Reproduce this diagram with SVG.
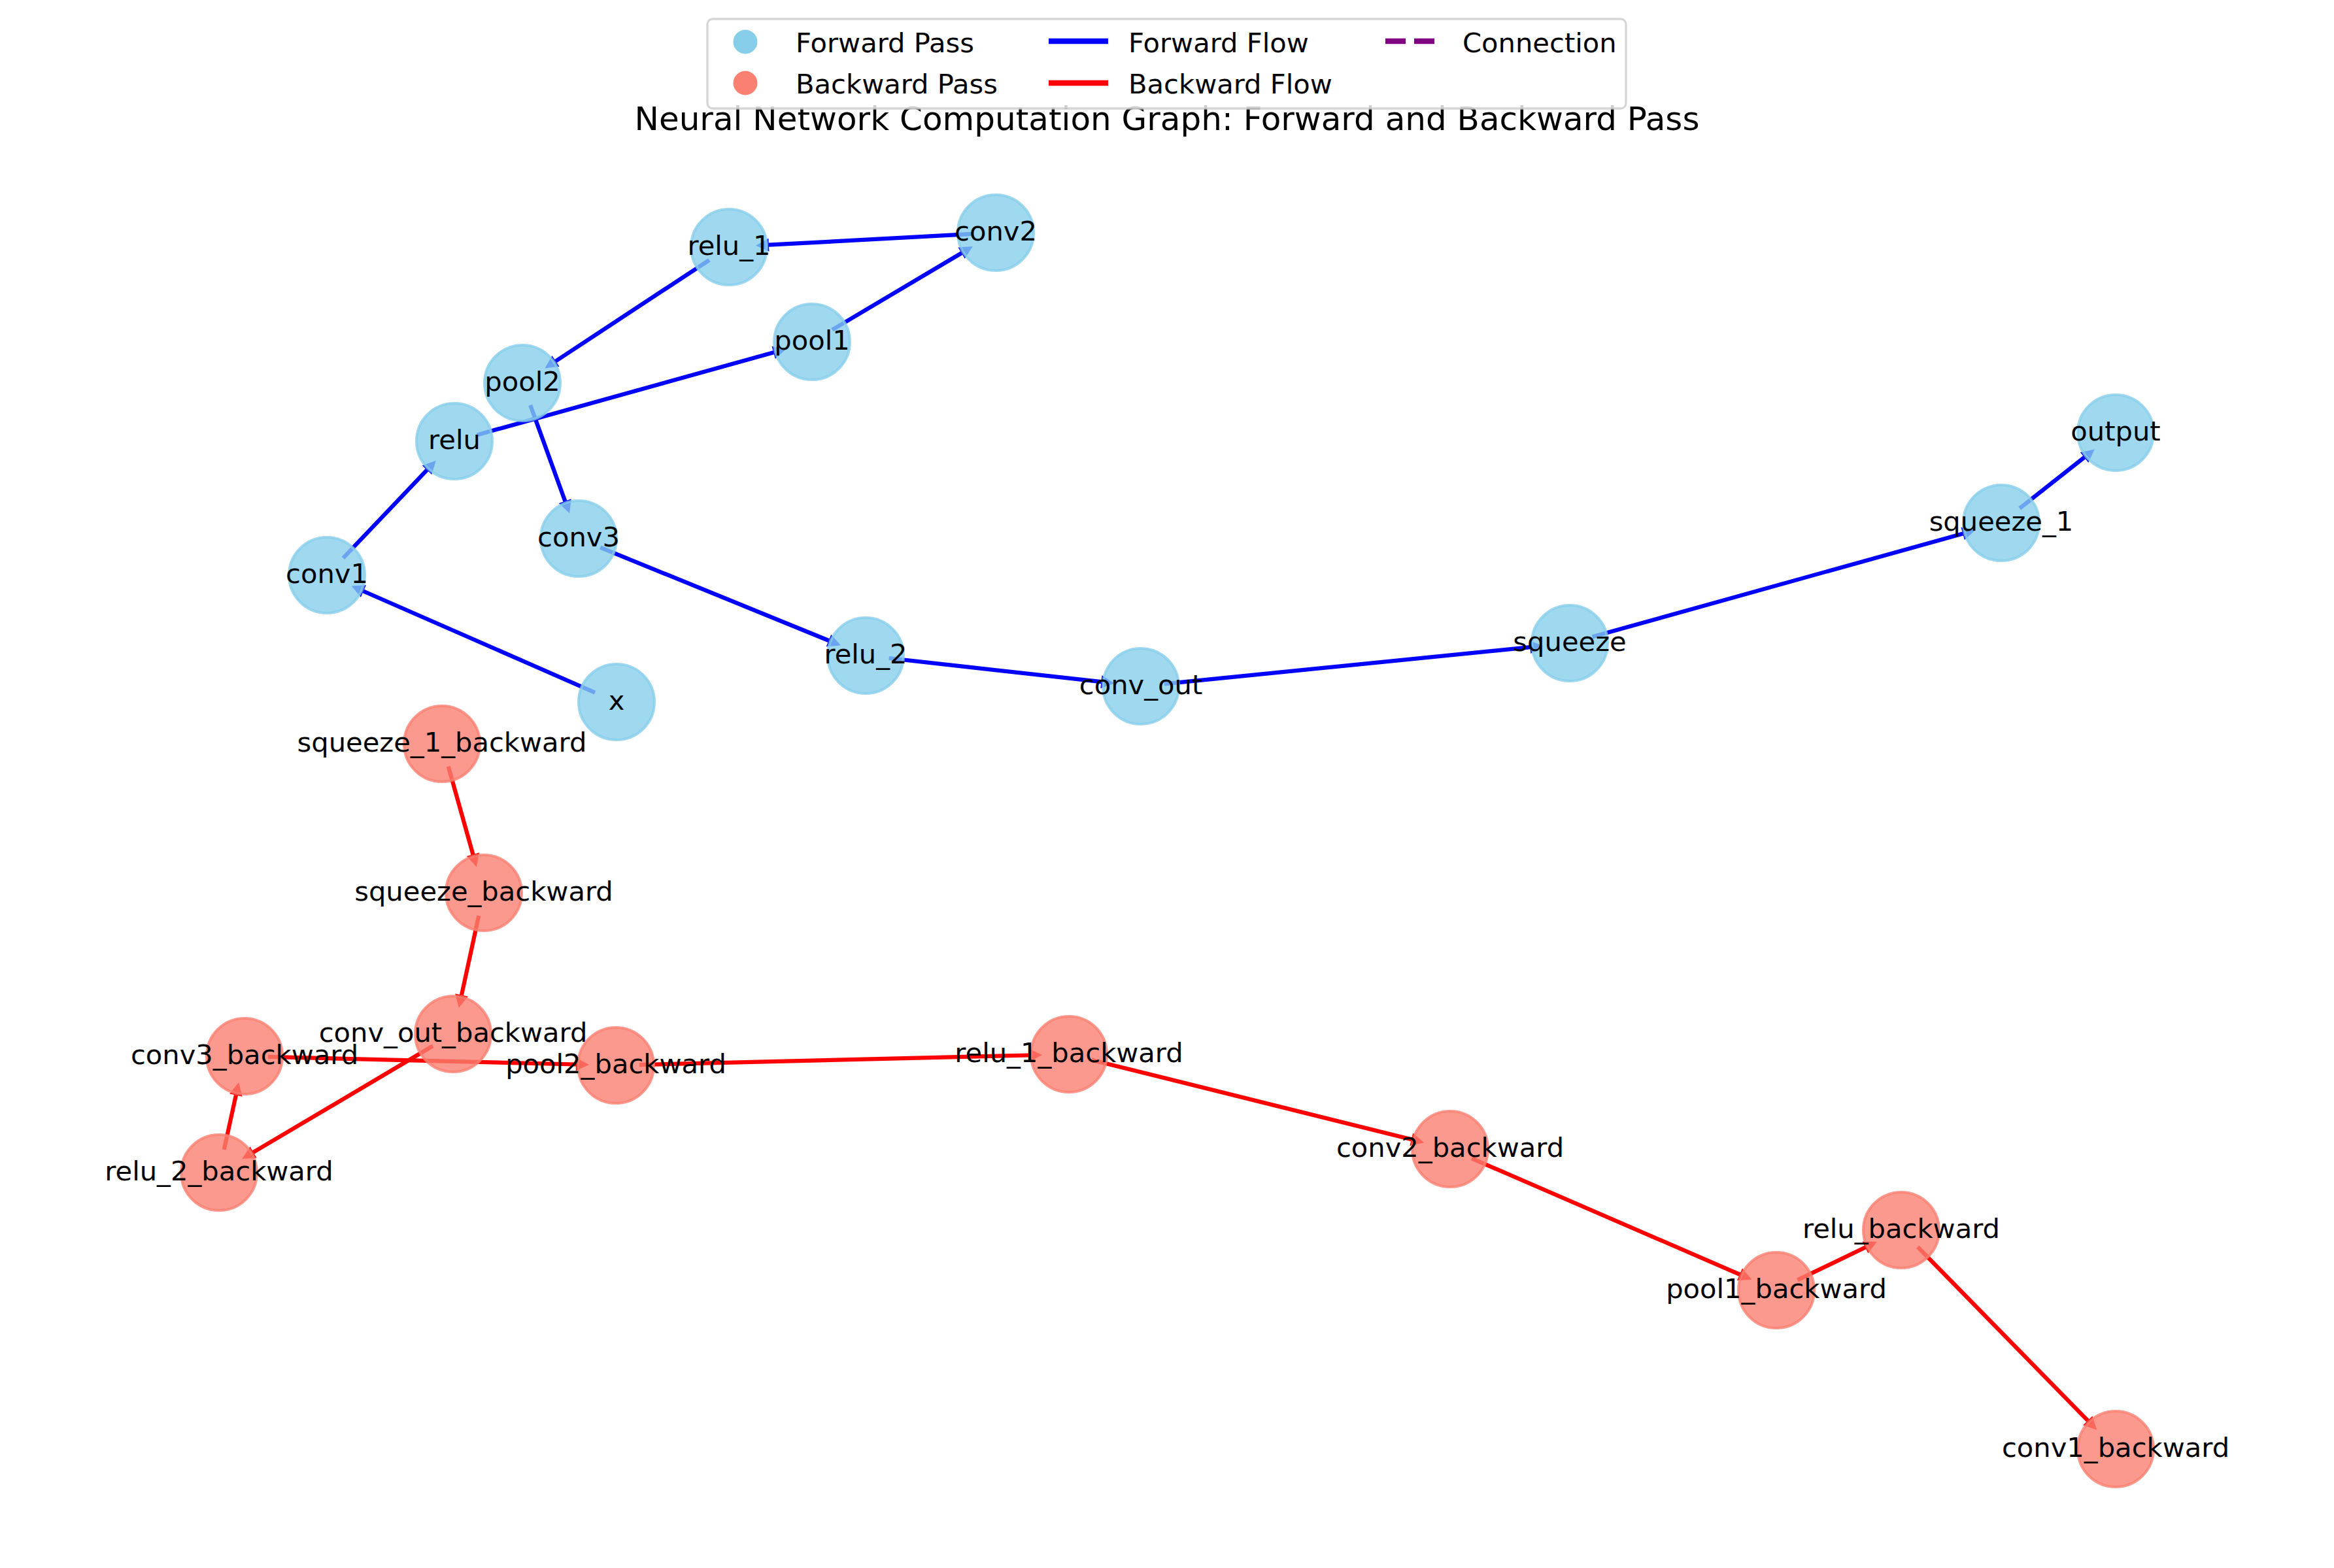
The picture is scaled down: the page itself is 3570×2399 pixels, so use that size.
<svg xmlns="http://www.w3.org/2000/svg" width="3570" height="2399" viewBox="0 0 3570 2399">
<style>
.fw{stroke:#0000ff;stroke-width:6.25;fill:none}
.bw{stroke:#ff0000;stroke-width:6.25;fill:none}
.nf circle{fill:#87ceeb;fill-opacity:0.8;stroke:#87ceeb;stroke-opacity:0.8;stroke-width:4}
.nb circle{fill:#fa8072;fill-opacity:0.8;stroke:#fa8072;stroke-opacity:0.8;stroke-width:4}
text{font-family:"DejaVu Sans","Liberation Sans",sans-serif;fill:#000}
.lbl{font-size:41.67px;text-anchor:middle}
.leg{font-size:41.67px}
.title{font-size:50px;text-anchor:middle}
</style>
<defs>
<marker id="af" markerUnits="userSpaceOnUse" markerWidth="22" markerHeight="22" viewBox="0 -11 22 22" refX="0" refY="0" orient="auto" overflow="visible"><path d="M0,-10 L20,0 L0,10 z" fill="#0000ff"/></marker>
<marker id="ar" markerUnits="userSpaceOnUse" markerWidth="22" markerHeight="22" viewBox="0 -11 22 22" refX="0" refY="0" orient="auto" overflow="visible"><path d="M0,-10 L20,0 L0,10 z" fill="#ff0000"/></marker>
</defs>
<rect x="0" y="0" width="3570" height="2399" fill="#ffffff"/>

<g id="connectors">
<line class="fw" x1="910.0" y1="1059.6" x2="555.9" y2="904.5" marker-end="url(#af)"/>
<line class="fw" x1="524.8" y1="853.9" x2="653.0" y2="719.2" marker-end="url(#af)"/>
<line class="fw" x1="729.7" y1="665.4" x2="1183.2" y2="539.3" marker-end="url(#af)"/>
<line class="fw" x1="1272.9" y1="504.6" x2="1470.6" y2="387.2" marker-end="url(#af)"/>
<line class="fw" x1="1487.1" y1="357.9" x2="1175.9" y2="374.7" marker-end="url(#af)"/>
<line class="fw" x1="1084.9" y1="397.8" x2="850.0" y2="552.5" marker-end="url(#af)"/>
<line class="fw" x1="811.2" y1="619.9" x2="864.3" y2="766.6" marker-end="url(#af)"/>
<line class="fw" x1="918.3" y1="837.6" x2="1267.5" y2="980.0" marker-end="url(#af)"/>
<line class="fw" x1="1359.8" y1="1007.0" x2="1684.4" y2="1043.2" marker-end="url(#af)"/>
<line class="fw" x1="1780.8" y1="1046.4" x2="2340.3" y2="990.1" marker-end="url(#af)"/>
<line class="fw" x1="2435.7" y1="974.3" x2="3002.2" y2="816.4" marker-end="url(#af)"/>
<line class="fw" x1="3089.3" y1="777.7" x2="3188.1" y2="699.8" marker-end="url(#af)"/>

<line class="bw" x1="685.7" y1="1172.7" x2="723.5" y2="1307.3" marker-end="url(#ar)"/>
<line class="bw" x1="732.3" y1="1401.2" x2="706.0" y2="1522.4" marker-end="url(#ar)"/>
<line class="bw" x1="662.0" y1="1600.3" x2="387.5" y2="1762.9" marker-end="url(#ar)"/>
<line class="bw" x1="342.7" y1="1758.8" x2="360.9" y2="1675.6" marker-end="url(#ar)"/>
<line class="bw" x1="410.0" y1="1616.9" x2="881.0" y2="1628.5" marker-end="url(#ar)"/>
<line class="bw" x1="978.0" y1="1629.1" x2="1574.0" y2="1614.5" marker-end="url(#ar)"/>
<line class="bw" x1="1669.9" y1="1621.7" x2="2158.8" y2="1743.3" marker-end="url(#ar)"/>
<line class="bw" x1="2251.0" y1="1772.3" x2="2661.0" y2="1949.8" marker-end="url(#ar)"/>
<line class="bw" x1="2749.4" y1="1958.4" x2="2853.0" y2="1908.5" marker-end="url(#ar)"/>
<line class="bw" x1="2933.2" y1="1907.7" x2="3193.3" y2="2173.4" marker-end="url(#ar)"/>
</g>

<g id="node-x" class="nf"><circle cx="943" cy="1074" r="58"/><text class="lbl" x="943" y="1086">x</text></g>
<g id="node-conv1" class="nf"><circle cx="500" cy="880" r="58"/><text class="lbl" x="500" y="892">conv1</text></g>
<g id="node-relu" class="nf"><circle cx="695" cy="675" r="58"/><text class="lbl" x="695" y="687">relu</text></g>
<g id="node-pool1" class="nf"><circle cx="1242" cy="523" r="58"/><text class="lbl" x="1242" y="535">pool1</text></g>
<g id="node-conv2" class="nf"><circle cx="1523" cy="356" r="58"/><text class="lbl" x="1523" y="368">conv2</text></g>
<g id="node-relu_1" class="nf"><circle cx="1115" cy="378" r="58"/><text class="lbl" x="1115" y="390">relu_1</text></g>
<g id="node-pool2" class="nf"><circle cx="799" cy="586" r="58"/><text class="lbl" x="799" y="598">pool2</text></g>
<g id="node-conv3" class="nf"><circle cx="885" cy="824" r="58"/><text class="lbl" x="885" y="836">conv3</text></g>
<g id="node-relu_2" class="nf"><circle cx="1324" cy="1003" r="58"/><text class="lbl" x="1324" y="1015">relu_2</text></g>
<g id="node-conv_out" class="nf"><circle cx="1745" cy="1050" r="58"/><text class="lbl" x="1745" y="1062">conv_out</text></g>
<g id="node-squeeze" class="nf"><circle cx="2401" cy="984" r="58"/><text class="lbl" x="2401" y="996">squeeze</text></g>
<g id="node-squeeze_1" class="nf"><circle cx="3061" cy="800" r="58"/><text class="lbl" x="3061" y="812">squeeze_1</text></g>
<g id="node-output" class="nf"><circle cx="3236" cy="662" r="58"/><text class="lbl" x="3236" y="674">output</text></g>

<g id="node-squeeze_1_backward" class="nb"><circle cx="676" cy="1138" r="58"/><text class="lbl" x="676" y="1150">squeeze_1_backward</text></g>
<g id="node-squeeze_backward" class="nb"><circle cx="740" cy="1366" r="58"/><text class="lbl" x="740" y="1378">squeeze_backward</text></g>
<g id="node-conv_out_backward" class="nb"><circle cx="693" cy="1582" r="58"/><text class="lbl" x="693" y="1594">conv_out_backward</text></g>
<g id="node-relu_2_backward" class="nb"><circle cx="335" cy="1794" r="58"/><text class="lbl" x="335" y="1806">relu_2_backward</text></g>
<g id="node-conv3_backward" class="nb"><circle cx="374" cy="1616" r="58"/><text class="lbl" x="374" y="1628">conv3_backward</text></g>
<g id="node-pool2_backward" class="nb"><circle cx="942" cy="1630" r="58"/><text class="lbl" x="942" y="1642">pool2_backward</text></g>
<g id="node-relu_1_backward" class="nb"><circle cx="1635" cy="1613" r="58"/><text class="lbl" x="1635" y="1625">relu_1_backward</text></g>
<g id="node-conv2_backward" class="nb"><circle cx="2218" cy="1758" r="58"/><text class="lbl" x="2218" y="1770">conv2_backward</text></g>
<g id="node-pool1_backward" class="nb"><circle cx="2717" cy="1974" r="58"/><text class="lbl" x="2717" y="1986">pool1_backward</text></g>
<g id="node-relu_backward" class="nb"><circle cx="2908" cy="1882" r="58"/><text class="lbl" x="2908" y="1894">relu_backward</text></g>
<g id="node-conv1_backward" class="nb"><circle cx="3236" cy="2217" r="58"/><text class="lbl" x="3236" y="2229">conv1_backward</text></g>

<text id="title" class="title" x="1785" y="199">Neural Network Computation Graph: Forward and Backward Pass</text>

<g id="legend">
<rect x="1082" y="29" width="1405" height="137" rx="8" ry="8" fill="#ffffff" fill-opacity="0.8" stroke="#cccccc" stroke-opacity="0.8" stroke-width="3.3"/>
<circle cx="1140" cy="64" r="18.5" fill="#87ceeb"/>
<circle cx="1140" cy="127" r="18.5" fill="#fa8072"/>
<line x1="1604" y1="63" x2="1695" y2="63" stroke="#0000ff" stroke-width="8.33"/>
<line x1="1604" y1="127" x2="1695" y2="127" stroke="#ff0000" stroke-width="8.33"/>
<line x1="2119" y1="63" x2="2194" y2="63" stroke="#800080" stroke-width="8.33" stroke-dasharray="31,13"/>
<text class="leg" x="1217" y="80">Forward Pass</text>
<text class="leg" x="1217" y="143">Backward Pass</text>
<text class="leg" x="1726" y="80">Forward Flow</text>
<text class="leg" x="1726" y="143">Backward Flow</text>
<text class="leg" x="2237" y="80">Connection</text>
</g>
</svg>
